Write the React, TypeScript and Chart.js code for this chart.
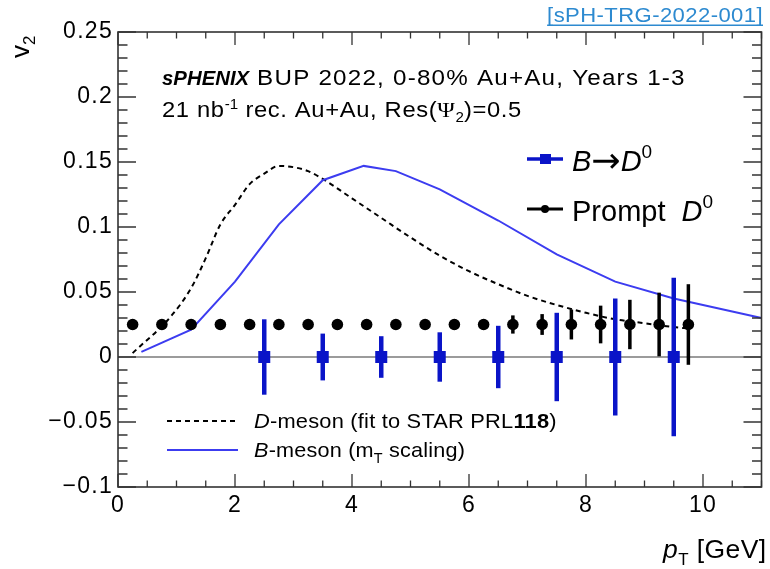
import React, { useEffect, useRef } from "react";
import { Chart, registerables } from "chart.js";

Chart.register(...registerables);

// ---------- data ----------
const promptX = [0.25, 0.75, 1.25, 1.75, 2.25, 2.75, 3.25, 3.75, 4.25, 4.75, 5.25, 5.75, 6.25, 6.75, 7.25, 7.75, 8.25, 8.75, 9.25, 9.75];
const promptY = [0.025, 0.025, 0.025, 0.025, 0.025, 0.025, 0.025, 0.025, 0.025, 0.025, 0.025, 0.025, 0.025, 0.025, 0.025, 0.025, 0.025, 0.025, 0.025, 0.025];
const promptErr = [0.003, 0.003, 0.003, 0.003, 0.003, 0.003, 0.003, 0.003, 0.003, 0.003, 0.003, 0.003, 0.003, 0.007, 0.008, 0.0115, 0.0145, 0.019, 0.0245, 0.031];

const bdX = [2.5, 3.5, 4.5, 5.5, 6.5, 7.5, 8.5, 9.5];
const bdY = [0, 0, 0, 0, 0, 0, 0, 0];
const bdErr = [0.029, 0.018, 0.016, 0.019, 0.024, 0.034, 0.045, 0.061];

const dMesonX = [0.25, 0.9, 1.25, 1.5, 1.75, 2.0, 2.25, 2.5, 2.75, 3.0, 3.25, 3.5, 4.0, 4.5, 5.0, 5.5, 6.0, 6.5, 7.0, 7.5, 8.0, 8.5, 9.0, 9.5, 9.75];
const dMesonY = [0.003, 0.031, 0.053, 0.076, 0.102, 0.117, 0.133, 0.141, 0.147, 0.146, 0.143, 0.137, 0.122, 0.107, 0.092, 0.078, 0.066, 0.056, 0.047, 0.040, 0.034, 0.029, 0.026, 0.023, 0.022];

const bMesonX = [0.4, 1.25, 2.0, 2.75, 3.5, 4.2, 4.75, 5.5, 6.5, 7.5, 8.5, 9.5, 10.5, 11.0];
const bMesonY = [0.004, 0.021, 0.058, 0.102, 0.136, 0.147, 0.143, 0.129, 0.105, 0.079, 0.058, 0.045, 0.035, 0.030];

const xTickValues = [0, 2, 4, 6, 8, 10];
const xTickLabels = ["0", "2", "4", "6", "8", "10"];
const yTickValues = [-0.1, -0.05, 0, 0.05, 0.1, 0.15, 0.2, 0.25];
const yTickLabels = ["\u22120.1", "\u22120.05", "0", "0.05", "0.1", "0.15", "0.2", "0.25"];

const F = '"Liberation Sans", Arial, Helvetica, sans-serif';
const FS = '"Liberation Serif", "Times New Roman", serif';
const FD = '"DejaVu Sans", sans-serif';
const BLUE_MARK = "#0a14c8";
const BLUE_LINE = "#3c3cf0";

type Seg = { t: string; font: string; dy?: number; sp?: number };

function drawRich(
  ctx: CanvasRenderingContext2D,
  x: number,
  y: number,
  segs: Seg[],
  color = "#000",
  spacing = 0,
  sx = 1
) {
  let cx = x;
  ctx.fillStyle = color;
  ctx.textBaseline = "alphabetic";
  ctx.textAlign = "left";
  for (const s of segs) {
    ctx.font = s.font;
    (ctx as any).letterSpacing = `${s.sp !== undefined ? s.sp : spacing}px`;
    const w = ctx.measureText(s.t).width;
    ctx.save();
    ctx.translate(cx, y + (s.dy || 0));
    ctx.scale(sx, 1);
    ctx.fillText(s.t, 0, 0);
    ctx.restore();
    cx += w * sx;
  }
  (ctx as any).letterSpacing = "0px";
  return cx;
}

const errorBarPlugin = {
  id: "errorBars",
  beforeDraw(chart: any) {
    (chart.ctx as any).letterSpacing = "1.3px";
  },
  beforeDatasetDraw(chart: any, args: any) {
    const ctx = chart.ctx;
    const xs = chart.scales.x;
    const ys = chart.scales.y;
    const ds = chart.data.datasets[args.index];
    if (!ds.errors) return;
    ctx.save();
    ctx.strokeStyle = ds.errColor;
    ctx.lineWidth = ds.errWidth;
    ctx.lineCap = "butt";
    ds.data.forEach((p: any, i: number) => {
      const e = ds.errors[i];
      const px = xs.getPixelForValue(p.x);
      ctx.beginPath();
      ctx.moveTo(px, ys.getPixelForValue(p.y - e));
      ctx.lineTo(px, ys.getPixelForValue(p.y + e));
      ctx.stroke();
    });
    ctx.restore();
  },
};

const framePlugin = {
  id: "frame",
  beforeDatasetsDraw(chart: any) {
    const ctx = chart.ctx;
    const a = chart.chartArea;
    const ys = chart.scales.y;
    const y0 = ys.getPixelForValue(0);
    ctx.save();
    ctx.strokeStyle = "#7a7a7a";
    ctx.lineWidth = 1.5;
    ctx.beginPath();
    ctx.moveTo(a.left, y0);
    ctx.lineTo(a.right, y0);
    ctx.stroke();
    ctx.restore();
  },
  afterDraw(chart: any) {
    const ctx = chart.ctx;
    const a = chart.chartArea;
    const xs = chart.scales.x;
    const ys = chart.scales.y;
    (ctx as any).letterSpacing = "0px";
    ctx.save();
    ctx.strokeStyle = "#333";
    ctx.lineWidth = 1.6;
    ctx.strokeRect(a.left, a.top, a.right - a.left, a.bottom - a.top);
    ctx.lineWidth = 1.3;
    ctx.beginPath();
    // x ticks every 0.5, major every 2
    for (let k = 0; k <= 22; k++) {
      const v = k * 0.5;
      const px = xs.getPixelForValue(v);
      const len = k % 4 === 0 ? 13 : 6.5;
      ctx.moveTo(px, a.bottom);
      ctx.lineTo(px, a.bottom - len);
      ctx.moveTo(px, a.top);
      ctx.lineTo(px, a.top + len);
    }
    // y ticks every 0.01, major every 0.05
    for (let k = -10; k <= 25; k++) {
      const v = k / 100;
      const py = ys.getPixelForValue(v);
      const len = k % 5 === 0 ? 18 : 9.5;
      ctx.moveTo(a.left, py);
      ctx.lineTo(a.left + len, py);
      ctx.moveTo(a.right, py);
      ctx.lineTo(a.right - len, py);
    }
    ctx.stroke();
    ctx.restore();

    ctx.save();
    // y title
    ctx.save();
    ctx.translate(29, 58);
    ctx.rotate(-Math.PI / 2);
    drawRich(ctx, 0, 0, [
      { t: "v", font: `26px ${F}` },
      { t: "2", font: `17px ${F}`, dy: 6 },
    ]);
    ctx.restore();
    // x title
    drawRich(
      ctx,
      663,
      558,
      [
        { t: "p", font: `italic 25px ${F}` },
        { t: "T", font: `16px ${F}`, dy: 7 },
        { t: " [GeV]", font: `25px ${F}` },
      ],
      "#000",
      0.4,
      1.06
    );
    // link
    ctx.font = `21px ${F}`;
    (ctx as any).letterSpacing = "0.4px";
    const linkText = "[sPH-TRG-2022-001]";
    const lw = ctx.measureText(linkText).width * 1.05;
    ctx.fillStyle = "#2d8ad0";
    ctx.textAlign = "left";
    ctx.textBaseline = "alphabetic";
    ctx.save();
    ctx.translate(763 - lw, 22);
    ctx.scale(1.05, 1);
    ctx.fillText(linkText, 0, 0);
    ctx.restore();
    ctx.fillRect(763 - lw, 24.5, lw, 1.5);
    (ctx as any).letterSpacing = "0px";

    const x1 = drawRich(ctx, 162, 85, [{ t: "sPHENIX", font: `italic bold 21px ${F}` }], "#000", 0, 0.97);
    drawRich(ctx, x1, 85, [{ t: " BUP 2022, 0-80% Au+Au, Years 1-3", font: `22px ${F}` }], "#000", 1.1, 1.1);
    drawRich(
      ctx,
      162,
      117,
      [
        { t: "21 nb", font: `22px ${F}` },
        { t: "-1", font: `14px ${F}`, dy: -8, sp: 0 },
        { t: " rec. Au+Au, Res(", font: `22px ${F}` },
        { t: "\u03A8", font: `22px ${FS}` },
        { t: "2", font: `14px ${F}`, dy: 5, sp: 0 },
        { t: ")=0.5", font: `22px ${F}` },
      ],
      "#000",
      0.6,
      1.08
    );

    // legend top-right
    ctx.lineCap = "butt";
    ctx.strokeStyle = BLUE_MARK;
    ctx.lineWidth = 3.5;
    ctx.beginPath();
    ctx.moveTo(527, 159);
    ctx.lineTo(563, 159);
    ctx.stroke();
    ctx.fillStyle = BLUE_MARK;
    ctx.fillRect(540, 154, 11, 10);
    drawRich(ctx, 572, 171, [
      { t: "B", font: `italic 29px ${F}` },
      { t: "\u2192", font: `35px ${FD}`, dy: 1 },
      { t: "D", font: `italic 29px ${F}` },
      { t: "0", font: `19px ${F}`, dy: -13 },
    ]);
    ctx.strokeStyle = "#000";
    ctx.lineWidth = 3;
    ctx.beginPath();
    ctx.moveTo(527, 209);
    ctx.lineTo(563, 209);
    ctx.stroke();
    ctx.fillStyle = "#000";
    ctx.beginPath();
    ctx.arc(545, 209, 4, 0, Math.PI * 2);
    ctx.fill();
    drawRich(ctx, 572, 221, [
      { t: "Prompt  ", font: `29px ${F}` },
      { t: "D", font: `italic 29px ${F}` },
      { t: "0", font: `19px ${F}`, dy: -13 },
    ]);

    // legend bottom-left
    ctx.strokeStyle = "#000";
    ctx.lineWidth = 2;
    ctx.setLineDash([5, 4]);
    ctx.beginPath();
    ctx.moveTo(167, 421);
    ctx.lineTo(238, 421);
    ctx.stroke();
    ctx.setLineDash([]);
    drawRich(
      ctx,
      254,
      428,
      [
        { t: "D", font: `italic 21px ${F}` },
        { t: "-meson (fit to STAR PRL", font: `21px ${F}` },
        { t: "118", font: `bold 21px ${F}` },
        { t: ")", font: `21px ${F}` },
      ],
      "#000",
      0.2,
      1.04
    );
    ctx.strokeStyle = BLUE_LINE;
    ctx.lineWidth = 2;
    ctx.beginPath();
    ctx.moveTo(167, 450);
    ctx.lineTo(238, 450);
    ctx.stroke();
    drawRich(
      ctx,
      254,
      457,
      [
        { t: "B", font: `italic 21px ${F}` },
        { t: "-meson (m", font: `21px ${F}` },
        { t: "T", font: `14px ${F}`, dy: 6 },
        { t: " scaling)", font: `21px ${F}` },
      ],
      "#000",
      0.2,
      1.03
    );
    ctx.restore();
  },
};

export default function App() {
  const ref = useRef<HTMLCanvasElement | null>(null);
  useEffect(() => {
    if (!ref.current) return;
    const chart = new Chart(ref.current, {
      type: "line",
      data: {
        datasets: [
          {
            label: "B→D0",
            data: bdX.map((x, i) => ({ x, y: bdY[i] })),
            showLine: false,
            pointStyle: "rect",
            pointRadius: 8.5,
            backgroundColor: BLUE_MARK,
            borderColor: BLUE_MARK,
            borderWidth: 0,
            errors: bdErr,
            errColor: BLUE_MARK,
            errWidth: 4.5,
          } as any,
          {
            label: "Prompt D0",
            data: promptX.map((x, i) => ({ x, y: promptY[i] })),
            showLine: false,
            pointStyle: "circle",
            pointRadius: 5.8,
            backgroundColor: "#000",
            borderColor: "#000",
            borderWidth: 0,
            errors: promptErr,
            errColor: "#000",
            errWidth: 3.5,
          } as any,
          {
            label: "B-meson",
            data: bMesonX.map((x, i) => ({ x, y: bMesonY[i] })),
            borderColor: BLUE_LINE,
            borderWidth: 2,
            pointRadius: 0,
            tension: 0,
            fill: false,
          },
          {
            label: "D-meson",
            data: dMesonX.map((x, i) => ({ x, y: dMesonY[i] })),
            borderColor: "#000",
            borderWidth: 2,
            borderDash: [5, 4],
            pointRadius: 0,
            cubicInterpolationMode: "monotone",
            fill: false,
          },
        ],
      },
      options: {
        responsive: false,
        animation: false,
        devicePixelRatio: 1,
        layout: { padding: { top: 32, right: 5, left: 0, bottom: 0 } },
        plugins: { legend: { display: false }, tooltip: { enabled: false } },
        scales: {
          x: {
            type: "linear",
            min: 0,
            max: 11,
            grid: { display: false, drawTicks: false },
            border: { display: false },
            afterBuildTicks: (s: any) => {
              s.ticks = xTickValues.map((v) => ({ value: v }));
            },
            afterFit: (s: any) => {
              s.height = 82;
            },
            ticks: {
              color: "#000",
              font: { family: F, size: 23 },
              padding: 5,
              maxRotation: 0,
              autoSkip: false,
              callback: (v: any) => {
                const i = xTickValues.indexOf(Number(v));
                return i >= 0 ? xTickLabels[i] : "";
              },
            },
          },
          y: {
            type: "linear",
            min: -0.1,
            max: 0.25,
            grid: { display: false, drawTicks: false },
            border: { display: false },
            afterBuildTicks: (s: any) => {
              s.ticks = yTickValues.map((v) => ({ value: v }));
            },
            afterFit: (s: any) => {
              s.width = 118;
            },
            ticks: {
              color: "#000",
              font: { family: F, size: 23 },
              padding: 5,
              autoSkip: false,
              callback: (v: any) => {
                let best = 0;
                yTickValues.forEach((t, i) => {
                  if (Math.abs(t - Number(v)) < Math.abs(yTickValues[best] - Number(v))) best = i;
                });
                return yTickLabels[best];
              },
            },
          },
        },
      } as any,
      plugins: [errorBarPlugin, framePlugin],
    });
    return () => chart.destroy();
  }, []);
  return (
    <div style={{ position: "absolute", left: 0, top: 0, width: 770, height: 569, background: "#fff" }}>
      <canvas ref={ref} width={770} height={569} style={{ display: "block" }} />
    </div>
  );
}
